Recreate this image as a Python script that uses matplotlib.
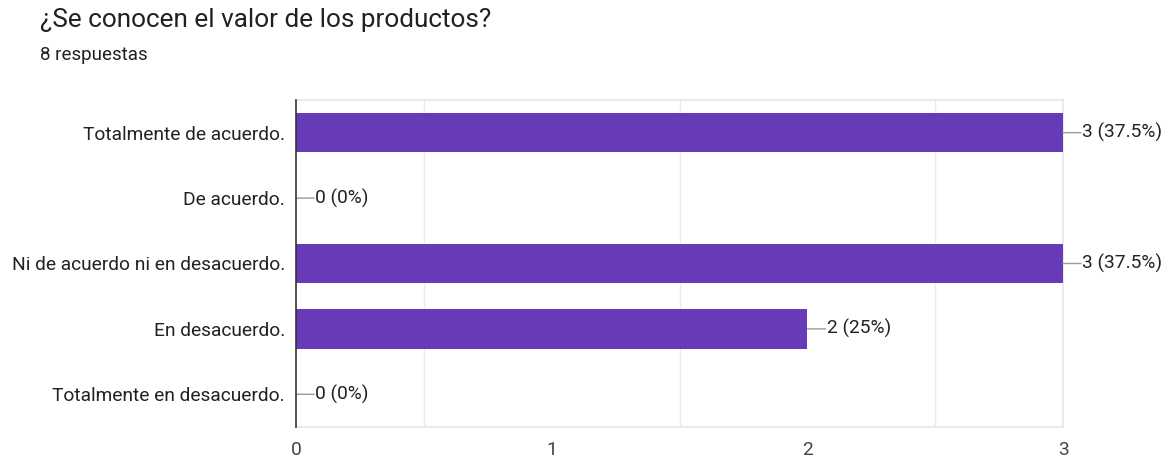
import matplotlib
matplotlib.use("Agg")
import matplotlib.pyplot as plt

categorias = [
    "Totalmente de acuerdo.",
    "De acuerdo.",
    "Ni de acuerdo ni en desacuerdo.",
    "En desacuerdo.",
    "Totalmente en desacuerdo.",
]
valores = [3, 0, 3, 2, 0]
total = 8
ticks_x = [0, 1, 2, 3]

plt.rcParams["font.family"] = ["Roboto", "DejaVu Sans"]

fig = plt.figure(figsize=(11.72, 4.58), dpi=100)
ax = fig.add_axes([0.2526, 0.0677, 0.6544, 0.714])

pos = list(range(len(categorias)))
ax.barh(pos, valores, height=0.6, color="#673ab7", zorder=3)
ax.set_ylim(len(categorias) - 0.5, -0.5)
ax.set_xlim(0, 3)

ax.set_yticks(pos)
ax.set_yticklabels(categorias, fontsize=13.8, color="#222222")
ax.set_xticks(ticks_x)
ax.set_xticklabels([str(t) for t in ticks_x], fontsize=13.8, color="#444444")
ax.tick_params(axis="y", length=0, pad=8)
ax.tick_params(axis="x", length=0, pad=10)

ax.set_xticks([0.5, 1, 1.5, 2, 2.5, 3], minor=True)
ax.tick_params(axis="x", which="minor", length=0)
ax.grid(True, axis="x", which="minor", color="#ebebeb", linewidth=1, zorder=0)
ax.grid(False, which="major")

for s in ["top", "right", "bottom"]:
    ax.spines[s].set_color("#e6e6e6")
    ax.spines[s].set_linewidth(1.2)
ax.spines["left"].set_color("#333333")
ax.spines["left"].set_linewidth(1.2)
ax.spines["left"].set_zorder(4)

for i, v in enumerate(valores):
    pct = v / total * 100
    txt = f"{v} ({pct:g}%)"
    ax.annotate("", xy=(v, i), xytext=(13, 0), textcoords="offset points",
                arrowprops=dict(arrowstyle="-", color="#999999", lw=1,
                                shrinkA=0, shrinkB=0), annotation_clip=False)
    ax.annotate(txt, xy=(v, i), xytext=(14, 0), textcoords="offset points",
                va="center", ha="left", fontsize=13.8, color="#222222",
                annotation_clip=False)

fig.text(40 / 1172, 1 - 20 / 458, "¿Se conocen el valor de los productos?",
         fontsize=18.8, color="#202124", va="center", ha="left")
fig.text(40 / 1172, 1 - 55 / 458, "8 respuestas",
         fontsize=13.5, color="#202124", va="center", ha="left")

fig.savefig("out.png", dpi=100)
